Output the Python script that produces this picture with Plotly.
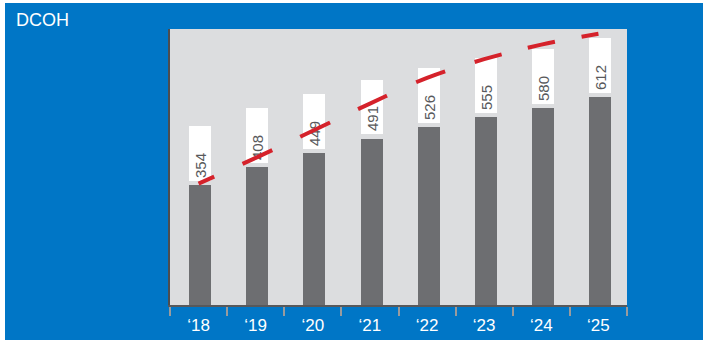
import plotly.graph_objects as go

# Data
years = ["\u201818", "\u201819", "\u201820", "\u201821", "\u201822", "\u201823", "\u201824", "\u201825"]
dcoh = [354, 408, 449, 491, 526, 555, 580, 612]
trend = [358, 434, 514, 594, 670, 725, 768, 800]

# Canvas geometry (pixels)
W, H = 703, 340
L, R, T, B = 170, 76, 29, 35
PW, PH = W - L - R, H - T - B
Y_MAX = 814

BLUE = "#0076c6"
PLOT_BG = "#dcdddf"
BAR = "#6d6e71"
RED = "#d5222b"
LABEL = "#58595b"
FONT = "Liberation Sans, Arial, sans-serif"

BAR_W = 0.385
BAR_OFF = -0.165
BOX_GAP = 12     # data units between bar top and label box
BOX_H = 162      # label box height in data units

# Dash / gap lengths (px) along the trend line
TREND_DASH = [17, 31, 33, 31, 33, 31, 32, 32, 31, 31, 28, 27, 28, 27, 30, 30]


def px_to_paper_x(px):
    return (px - L) / PW


def px_to_paper_y(py):
    return (H - B - py) / PH


fig = go.Figure()

# Value bars
fig.add_trace(go.Bar(
    x=years, y=dcoh, width=BAR_W, offset=BAR_OFF,
    marker=dict(color=BAR, line=dict(width=0)),
    hoverinfo="skip", showlegend=False,
))

# White label boxes sitting above each bar, value written inside
fig.add_trace(go.Bar(
    x=years, y=[BOX_H] * len(dcoh), base=[v + BOX_GAP for v in dcoh],
    width=BAR_W, offset=BAR_OFF,
    marker=dict(color="white", line=dict(width=0)),
    text=[str(v) for v in dcoh], textposition="inside",
    insidetextanchor="start", textangle=-90, constraintext="none",
    textfont=dict(family=FONT, size=15, color=LABEL),
    hoverinfo="skip", showlegend=False,
))

# Dashed red trend line
fig.add_trace(go.Scatter(
    x=years, y=trend, mode="lines",
    line=dict(color=RED, width=4, shape="spline",
              dash=",".join(f"{d}px" for d in TREND_DASH)),
    hoverinfo="skip", showlegend=False, cliponaxis=False,
))

fig.update_layout(
    width=W, height=H,
    autosize=False,
    margin=dict(l=L, r=R, t=T, b=B, pad=0, autoexpand=False),
    paper_bgcolor="white",
    plot_bgcolor=PLOT_BG,
    barmode="overlay",
    bargap=0,
    title=dict(text="DCOH", x=16 / W, xanchor="left", y=1 - 20 / H,
               yanchor="middle", xref="container", yref="container",
               automargin=False,
               font=dict(family=FONT, size=18, color="white")),
    shapes=[
        dict(type="rect", xref="paper", yref="paper", layer="below",
             x0=px_to_paper_x(5), x1=px_to_paper_x(W),
             y0=px_to_paper_y(H), y1=px_to_paper_y(3),
             fillcolor=BLUE, line=dict(width=0)),
        dict(type="rect", xref="paper", yref="paper", layer="below",
             x0=0, x1=1, y0=0, y1=1,
             fillcolor=PLOT_BG, line=dict(width=0)),
    ],
    xaxis=dict(
        type="category", range=[-0.5, len(years) - 0.5],
        automargin=False,
        showgrid=False, zeroline=False,
        showline=True, linecolor="#58595b", linewidth=2,
        ticks="outside", tickson="boundaries", ticklen=9,
        tickwidth=2, tickcolor="#9a9b9d",
        tickfont=dict(family=FONT, size=17, color="white"),
        ticklabelstandoff=4,
        fixedrange=True,
    ),
    yaxis=dict(
        range=[0, Y_MAX], automargin=False,
        showgrid=False, zeroline=False,
        showticklabels=False, ticks="",
        showline=True, linecolor="#4d4d4f", linewidth=2,
        fixedrange=True,
    ),
)

fig.write_html("out.html")
